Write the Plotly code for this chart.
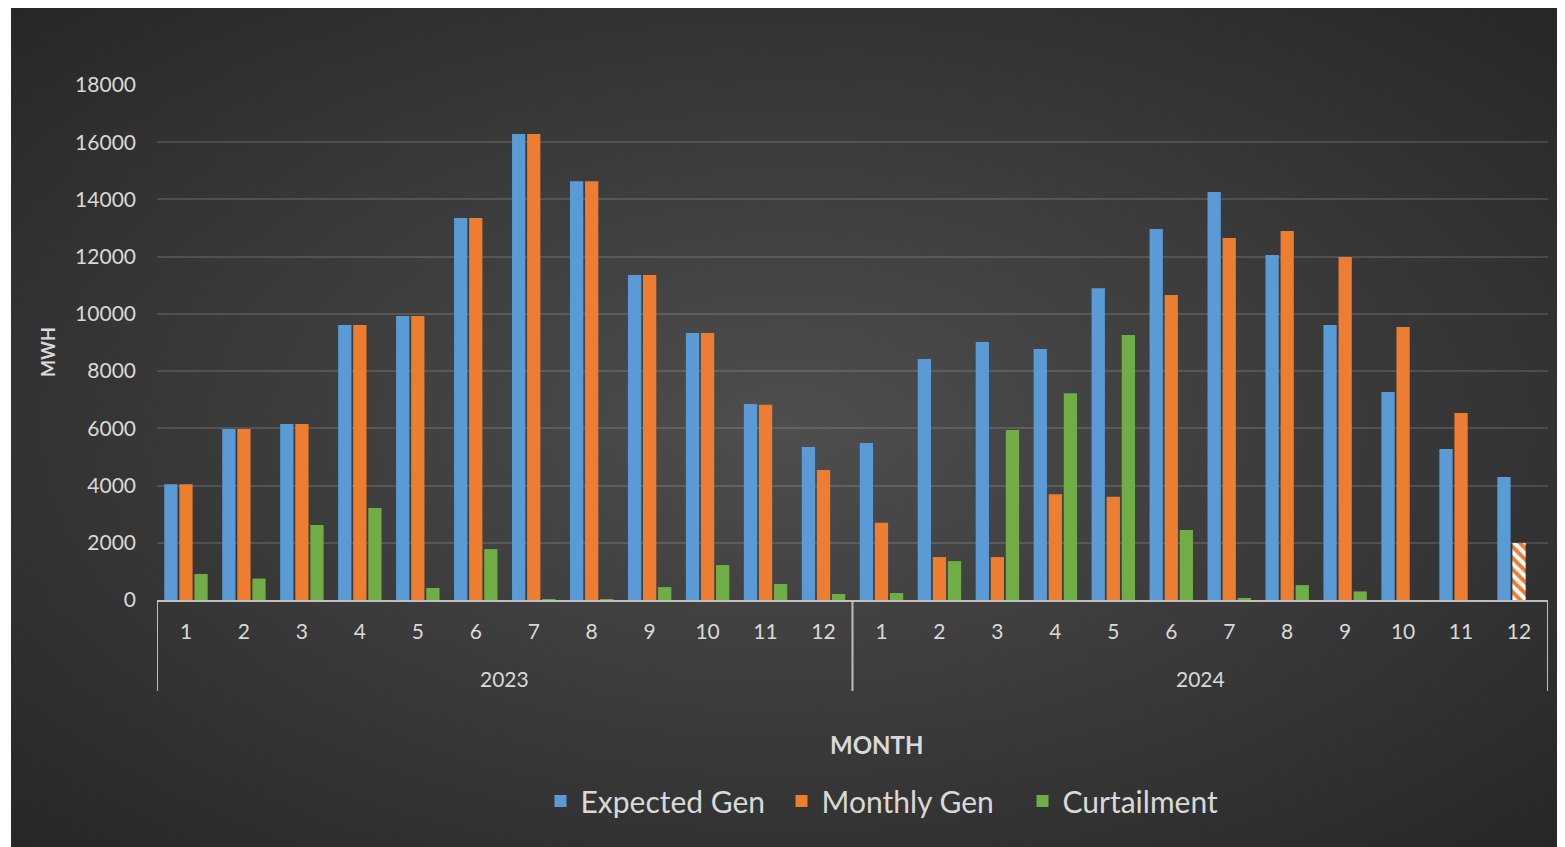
import base64
import plotly.graph_objects as go

years = ["2023", "2024"]
months = ["1", "2", "3", "4", "5", "6", "7", "8", "9", "10", "11", "12",
          "1", "2", "3", "4", "5", "6", "7", "8", "9", "10", "11", "12"]

expected_gen = [4050, 5980, 6150, 9610, 9930, 13350, 16290, 14640, 11360, 9330, 6850, 5350,
                5490, 8420, 9020, 8770, 10900, 12970, 14260, 12060, 9610, 7270, 5280, 4300]
monthly_gen = [4050, 5980, 6150, 9610, 9930, 13350, 16290, 14640, 11360, 9330, 6820, 4540,
               2700, 1500, 1500, 3700, 3610, 10660, 12650, 12900, 11990, 9540, 6540, 1990]
curtailment = [910, 750, 2620, 3215, 420, 1780, 30, 20, 450, 1220, 560, 210,
               245, 1360, 5940, 7230, 9260, 2450, 70, 520, 300, 0, 0, 0]
# last monthly value is partial (hatched)
partial = [False] * 23 + [True]
y_ticks = [0, 2000, 4000, 6000, 8000, 10000, 12000, 14000, 16000, 18000]

BLUE = "#5B9BD5"
ORANGE = "#ED7D31"
GREEN = "#70AD47"
TXT = "#D9D9D9"
AXC = "#BFBFBF"
FONT = "Lato"

xpos = list(range(len(months)))
n_per_year = len(months) // len(years)

fig = go.Figure()
fig.add_trace(go.Bar(name="Expected Gen", x=xpos, y=expected_gen,
                     marker=dict(color=BLUE, line=dict(width=0))))
fig.add_trace(go.Bar(
    name="Monthly Gen", x=xpos, y=monthly_gen,
    marker=dict(
        color=ORANGE,
        line=dict(width=0),
        pattern=dict(
            shape=["\\" if p else "" for p in partial],
            fgcolor=ORANGE,
            bgcolor=["white" if p else ORANGE for p in partial],
            fillmode="replace",
            size=8,
            solidity=0.5,
        ),
    ),
))
fig.add_trace(go.Bar(name="Curtailment", x=xpos, y=curtailment,
                     marker=dict(color=GREEN, line=dict(width=0))))

# page is offset by 8px body margin
OFF = 8
W, H = 1565 - OFF, 847 - OFF
L, R, T, B = 157 - OFF, 1548 - OFF, 85 - OFF, 600 - OFF
pw, ph = R - L, B - T

def px_x(p):
    return (p - OFF - L) / pw

def px_y(p):
    return (B - (p - OFF)) / ph

bg_w, bg_h = 1563 - 11, 847 - 5
svg = ("<svg xmlns='http://www.w3.org/2000/svg' width='%d' height='%d'>"
       "<defs><radialGradient id='g' cx='50%%' cy='50%%' r='72%%'>"
       "<stop offset='0' stop-color='#4e4e4e'/><stop offset='1' stop-color='#262626'/>"
       "</radialGradient></defs><rect width='%d' height='%d' fill='url(#g)'/></svg>") % (bg_w, bg_h, bg_w, bg_h)
src = "data:image/svg+xml;base64," + base64.b64encode(svg.encode()).decode()

shapes = []
for i in range(len(years) + 1):
    xv = -0.5 + i * n_per_year
    shapes.append(dict(type="line", xref="x", yref="paper", x0=xv, x1=xv,
                       y0=0, y1=px_y(691), line=dict(color=AXC, width=2)))

annotations = [
    dict(text="<b>MWH</b>", xref="paper", yref="paper", x=px_x(48), y=px_y(352),
         xanchor="center", yanchor="middle",
         textangle=-90, showarrow=False, font=dict(size=18, color=TXT, family=FONT)),
    dict(text="<b>MONTH</b>", xref="paper", yref="paper", x=px_x(876), y=px_y(745),
         xanchor="center", yanchor="middle",
         showarrow=False, font=dict(size=24, color=TXT, family=FONT)),
]
for i, yr in enumerate(years):
    annotations.append(dict(text=yr, xref="x", yref="paper", x=(n_per_year - 1) / 2 + i * n_per_year,
                            y=px_y(678), xanchor="center", yanchor="middle",
                            showarrow=False, font=dict(size=21, color=TXT, family=FONT)))

fig.update_layout(
    width=W, height=H,
    margin=dict(l=L, r=W - R, t=T, b=H - B, autoexpand=False),
    paper_bgcolor="white",
    plot_bgcolor="rgba(0,0,0,0)",
    barmode="group",
    bargap=0.22,
    bargroupgap=0.12,
    font=dict(family=FONT, color=TXT),
    images=[dict(source=src, xref="paper", yref="paper",
                 x=px_x(11), y=px_y(5), sizex=bg_w / pw, sizey=bg_h / ph,
                 xanchor="left", yanchor="top", sizing="stretch", layer="below")],
    legend=dict(orientation="h", x=px_x(902), y=px_y(801), xanchor="center", yanchor="middle",
                font=dict(size=30, color=TXT, family=FONT), bgcolor="rgba(0,0,0,0)",
                traceorder="normal", entrywidth=196, itemwidth=30),
    xaxis=dict(
        range=[-0.5, len(months) - 0.5],
        tickvals=xpos, ticktext=months,
        showline=True, linecolor=AXC, linewidth=2,
        showgrid=False, zeroline=False, ticks="",
        tickfont=dict(size=21, color=TXT, family=FONT),
        ticklabelstandoff=12,
    ),
    yaxis=dict(
        range=[0, 18000], tickvals=y_ticks, tickformat="d",
        showgrid=True, gridcolor="rgba(255,255,255,0.13)", gridwidth=2,
        zeroline=False, showline=False, ticks="",
        tickfont=dict(size=21, color=TXT, family=FONT),
        ticklabelstandoff=20,
    ),
    shapes=shapes,
    annotations=annotations,
)

fig.write_html("out.html")
